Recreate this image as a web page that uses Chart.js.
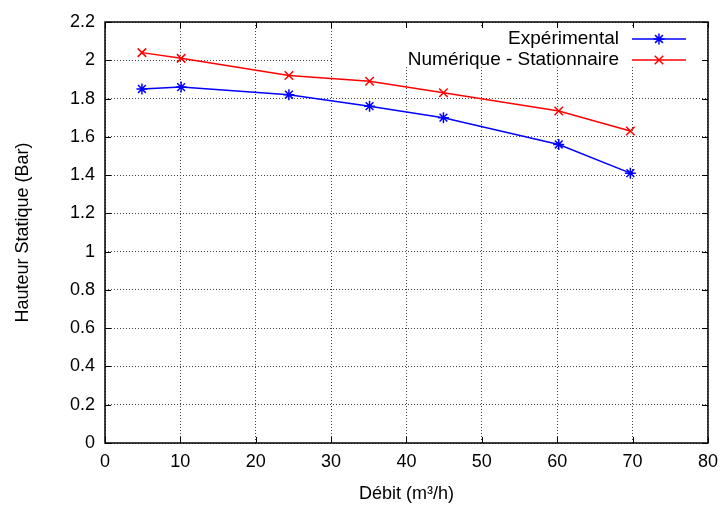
<!DOCTYPE html>
<html>
<head>
<meta charset="utf-8">
<script src="https://cdn.jsdelivr.net/npm/chart.js@4/dist/chart.umd.min.js"></script>
<style>
  html, body { margin: 0; padding: 0; background: #fff; }
  #wrap { width: 726px; height: 505px; }
</style>
</head>
<body>
<div id="wrap"><canvas id="c" width="726" height="505"></canvas></div>
<script>
'use strict';

// valeurs
const debit = [4.9, 10.1, 24.4, 35.1, 44.9, 60.2, 69.7];
const experimental = [1.85, 1.86, 1.82, 1.76, 1.70, 1.56, 1.41];
const numerique = [2.04, 2.01, 1.92, 1.89, 1.83, 1.735, 1.63];
const seriesNames = ['Expérimental', 'Numérique - Stationnaire'];
const xTicks = [0, 10, 20, 30, 40, 50, 60, 70, 80];
const yTicks = [0, 0.2, 0.4, 0.6, 0.8, 1, 1.2, 1.4, 1.6, 1.8, 2, 2.2];

const FONT = '"Liberation Sans", Arial, Helvetica, sans-serif';

function toPoints(xs, ys) {
    return xs.map((x, i) => ({x: x, y: ys[i]}));
}

// légende façon gnuplot + cadre et petites graduations vers l'intérieur
const gnuKey = {
    id: 'gnuKey',
    beforeDatasetsDraw(chart) {
        let a = chart.chartArea;
        let ctx = chart.ctx;
        ctx.save();
        ctx.fillStyle = '#fff';
        ctx.fillRect(a.left + 228, a.top + 5, a.right - a.left - 232, 40);
        ctx.restore();
    },
    afterDatasetsDraw(chart) {
        let a = chart.chartArea;
        let ctx = chart.ctx;
        let xs = chart.scales.x, ys = chart.scales.y;
        ctx.save();
        ctx.strokeStyle = '#000';
        ctx.lineWidth = 1;
        ctx.beginPath();
        xTicks.forEach(v => {
            let px = Math.round(xs.getPixelForValue(v)) + 0.5;
            ctx.moveTo(px, a.bottom); ctx.lineTo(px, a.bottom - 6);
            ctx.moveTo(px, a.top); ctx.lineTo(px, a.top + 6);
        });
        yTicks.forEach(v => {
            let py = Math.round(ys.getPixelForValue(v)) + 0.5;
            ctx.moveTo(a.left, py); ctx.lineTo(a.left + 6, py);
            ctx.moveTo(a.right, py); ctx.lineTo(a.right - 6, py);
        });
        ctx.stroke();
        ctx.lineWidth = 1.5;
        ctx.strokeRect(a.left, a.top, a.right - a.left, a.bottom - a.top);

        // clé
        ctx.font = '19px ' + FONT;
        ctx.textAlign = 'right';
        ctx.textBaseline = 'middle';
        ctx.fillStyle = '#000';
        chart.data.datasets.forEach((ds, i) => {
            let y = a.top + 17 + i * 21;
            ctx.fillText(ds.label, a.right - 89, y);
            ctx.strokeStyle = ds.borderColor;
            ctx.lineWidth = 1.5;
            ctx.beginPath();
            ctx.moveTo(a.right - 76, y);
            ctx.lineTo(a.right - 22, y);
            ctx.stroke();
            Chart.helpers.drawPoint(ctx, {
                pointStyle: ds.pointStyle,
                radius: ds.pointRadius,
                borderWidth: ds.pointBorderWidth,
                rotation: 0
            }, a.right - 49, y);
        });
        ctx.restore();
    }
};

const ctx = document.getElementById('c');
const chart = new Chart(ctx, {
    type: 'scatter',
    data: {
        datasets: [{
            label: seriesNames[0],
            data: toPoints(debit, experimental),
            showLine: true,
            borderColor: 'rgb(0, 0, 255)',
            backgroundColor: 'rgb(0, 0, 255)',
            borderWidth: 1.5,
            pointStyle: 'star',
            pointRadius: 5.5,
            pointBorderWidth: 1.5
        }, {
            label: seriesNames[1],
            data: toPoints(debit, numerique),
            showLine: true,
            borderColor: 'rgb(255, 0, 0)',
            backgroundColor: 'rgb(255, 0, 0)',
            borderWidth: 1.5,
            pointStyle: 'crossRot',
            pointRadius: 6,
            pointBorderWidth: 1.5
        }]
    },
    options: {
        responsive: false,
        animation: false,
        layout: {padding: {top: 22, right: 17, left: 0, bottom: 0}},
        plugins: {
            legend: {display: false},
            tooltip: {enabled: false}
        },
        scales: {
            x: {
                type: 'linear',
                min: 0,
                max: 80,
                afterBuildTicks: s => { s.ticks = xTicks.map(v => ({value: v})); },
                afterFit: s => { s.height = 62; },
                grid: {
                    color: '#444',
                    lineWidth: 1,
                    drawTicks: false
                },
                border: {display: false, dash: [1, 2]},
                ticks: {
                    color: '#000',
                    padding: 8,
                    maxRotation: 0,
                    font: {family: FONT, size: 18}
                },
                title: {
                    display: true,
                    text: 'Débit (m³/h)',
                    color: '#000',
                    padding: {top: 2, bottom: 0},
                    font: {family: FONT, size: 18}
                }
            },
            y: {
                type: 'linear',
                min: 0,
                max: 2.2,
                afterBuildTicks: s => { s.ticks = yTicks.map(v => ({value: v})); },
                afterFit: s => { s.width = 105; },
                grid: {
                    color: '#444',
                    lineWidth: 1,
                    drawTicks: false
                },
                border: {display: false, dash: [1, 2]},
                ticks: {
                    color: '#000',
                    padding: 10,
                    font: {family: FONT, size: 18},
                    callback: v => String(+v.toFixed(1))
                },
                title: {
                    display: true,
                    text: 'Hauteur Statique (Bar)',
                    color: '#000',
                    padding: {top: 12, bottom: 0},
                    font: {family: FONT, size: 18}
                }
            }
        }
    },
    plugins: [gnuKey]
});
</script>
</body>
</html>
